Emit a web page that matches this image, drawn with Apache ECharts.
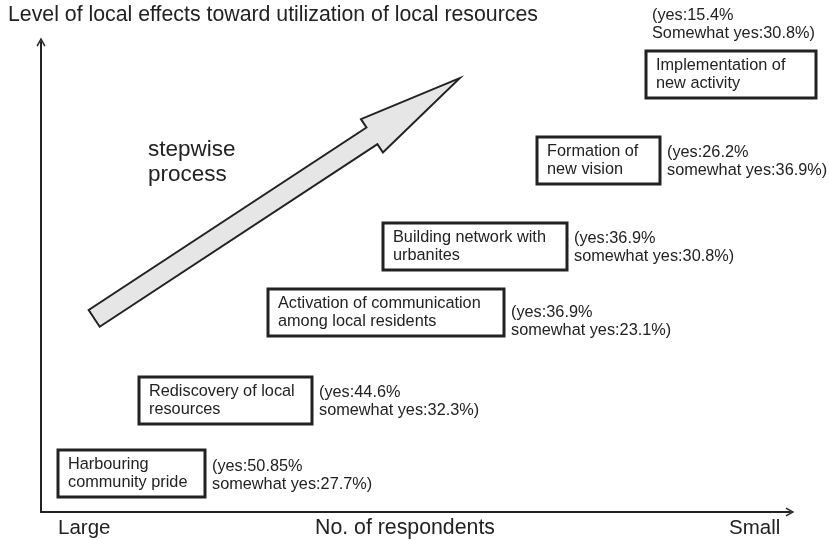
<!DOCTYPE html>
<html>
<head>
<meta charset="utf-8">
<script src="https://cdn.jsdelivr.net/npm/echarts@6/dist/echarts.min.js"></script>
<style>
  html, body { margin: 0; padding: 0; background: #fff; }
  #chart { width: 829px; height: 540px; }
</style>
</head>
<body>
<div id="chart"></div>
<script>
// stages of the process, from first to last
const stages = [
    'Harbouring\ncommunity pride',
    'Rediscovery of local\nresources',
    'Activation of communication\namong local residents',
    'Building network with\nurbanites',
    'Formation of\nnew vision',
    'Implementation of\nnew activity'
];
const yesPct = ['50.85', '44.6', '36.9', '36.9', '26.2', '15.4'];
const somewhatPct = ['27.7', '32.3', '23.1', '30.8', '36.9', '30.8'];
// where each stage sits: x = no. of respondents (large -> small), y = level of local effects
const respondentsPos = [12.1, 24.6, 46.1, 57.9, 74.4, 92.1];
const levelPos = [8.2, 23.8, 42.5, 56.5, 74.8, 93.0];
// the "stepwise process" arrow, tail -> tip in the same units
const arrowTail = [7.1, 41.2];
const arrowTip = [55.9, 92.3];

// layout only
const boxW = [147, 173, 236, 184, 123, 170];
const annDy = [2, 1, 9, 1.5, 1.5, 0];
const FONT = '"Liberation Sans", Arial, sans-serif';
const INK = '#222';
const chevron = 'path://M0,9 L5,0 L10,9 L8.6,9.8 L5,3.2 L1.4,9.8 Z';

const chart = echarts.init(document.getElementById('chart'));

function renderBox(params, api) {
    const i = params.dataIndex;
    const c = api.coord([api.value(0), api.value(1)]);
    const w = boxW[i], h = 47;
    const x0 = Math.round(c[0] - w / 2), y0 = Math.round(c[1] - h / 2);
    const children = [
        {
            type: 'rect',
            shape: { x: x0, y: y0, width: w, height: h },
            style: { fill: '#fff', stroke: INK, lineWidth: 3 }
        },
        {
            type: 'text',
            x: x0 + 10, y: c[1],
            style: {
                text: stages[i], fill: INK, font: '16.3px ' + FONT,
                verticalAlign: 'middle', align: 'left', lineHeight: 18
            }
        }
    ];
    const last = i === stages.length - 1;
    children.push({
        type: 'text',
        x: last ? x0 + 6 : x0 + w + 7,
        y: last ? y0 - 26 : c[1] + annDy[i],
        style: {
            text: '(yes:' + yesPct[i] + '%\n' + (last ? 'Somewhat' : 'somewhat') + ' yes:' + somewhatPct[i] + '%)',
            fill: INK, font: '16.3px ' + FONT,
            verticalAlign: 'middle', align: 'left', lineHeight: 18
        }
    });
    return { type: 'group', children: children };
}

function renderArrow(params, api) {
    const a = api.coord([api.value(0), api.value(1)]);
    const b = api.coord([api.value(2), api.value(3)]);
    const dx = b[0] - a[0], dy = b[1] - a[1];
    const len = Math.sqrt(dx * dx + dy * dy);
    const ux = dx / len, uy = dy / len;
    const nx = -uy, ny = ux;
    const sw = 10, hw = 20, hl = 105;
    const bx = b[0] - ux * hl, by = b[1] - uy * hl;
    const pts = [
        [a[0] + nx * sw, a[1] + ny * sw],
        [bx + nx * sw, by + ny * sw],
        [bx + nx * hw, by + ny * hw],
        [b[0], b[1]],
        [bx - nx * hw, by - ny * hw],
        [bx - nx * sw, by - ny * sw],
        [a[0] - nx * sw, a[1] - ny * sw]
    ];
    return {
        type: 'polygon',
        shape: { points: pts },
        style: { fill: '#e6e6e6', stroke: INK, lineWidth: 2, lineJoin: 'miter' }
    };
}

const option = {
    animation: false,
    backgroundColor: '#fff',
    grid: { left: 41, right: 39, top: 42, bottom: 28 },
    xAxis: {
        type: 'value', min: 0, max: 100,
        axisLine: { show: true, onZero: false, symbol: ['none', chevron], symbolSize: [9, 10], lineStyle: { color: INK, width: 2 } },
        axisTick: { show: false }, axisLabel: { show: false }, splitLine: { show: false }
    },
    yAxis: {
        type: 'value', min: 0, max: 100,
        axisLine: { show: true, onZero: false, symbol: ['none', chevron], symbolSize: [9, 10], lineStyle: { color: INK, width: 2 } },
        axisTick: { show: false }, axisLabel: { show: false }, splitLine: { show: false }
    },
    graphic: [
        { type: 'text', left: 8, top: 5, style: { text: 'Level of local effects toward utilization of local resources', fill: INK, font: '21.3px ' + FONT } },
        { type: 'text', left: 148, top: 137, style: { text: 'stepwise\nprocess', fill: INK, font: '22.5px ' + FONT, lineHeight: 25 } },
        { type: 'text', left: 58, top: 518, style: { text: 'Large', fill: INK, font: '20.5px ' + FONT } },
        { type: 'text', left: 315, top: 518, style: { text: 'No. of respondents', fill: INK, font: '21.3px ' + FONT } },
        { type: 'text', left: 729, top: 518, style: { text: 'Small', fill: INK, font: '20.5px ' + FONT } }
    ],
    series: [
        {
            type: 'custom',
            renderItem: renderArrow,
            data: [[arrowTail[0], arrowTail[1], arrowTip[0], arrowTip[1]]],
            silent: true, z: 2
        },
        {
            type: 'custom',
            renderItem: renderBox,
            data: respondentsPos.map((x, i) => [x, levelPos[i]]),
            silent: true, z: 3
        }
    ]
};

chart.setOption(option);
</script>
</body>
</html>
